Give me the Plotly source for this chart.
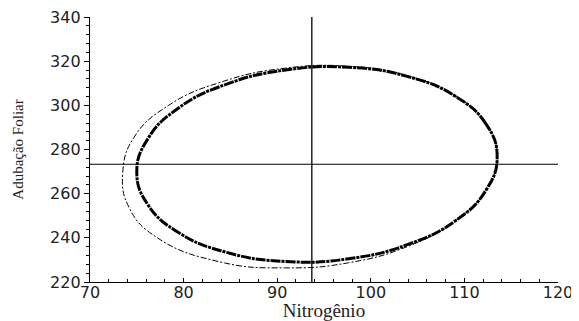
import plotly.graph_objects as go

# Inner (thick) contour (counter-clockwise from the right)
inner_x = [113.5, 112.3, 109.0, 103.9, 97.6, 90.9, 84.6, 79.5, 76.2, 75.0,
           76.2, 79.5, 84.6, 90.9, 97.6, 103.9, 109.0, 112.3, 113.5]
inner_y = [276.7, 291.6, 304.2, 313.1, 317.2, 316.0, 309.6, 298.9, 285.0, 269.8,
           254.9, 242.3, 233.4, 229.3, 230.5, 236.9, 247.6, 261.5, 276.7]

# Outer (thin) contour
outer_x = [113.5, 112.3, 109.0, 103.9, 97.6, 90.8, 84.2, 78.4, 74.7, 73.5,
           74.2, 77.2, 84.0, 90.9, 97.6, 104.0, 109.0, 112.3, 113.5]
outer_y = [276.7, 291.6, 304.4, 313.4, 317.7, 316.8, 310.8, 300.0, 285.5, 269.5,
           253.5, 240.0, 229.0, 226.4, 228.7, 236.2, 247.6, 261.5, 276.7]

# Reference cross-hair
center_x = 93.7
center_y = 273.3
x_range = [70, 120]
y_range = [220, 340]

fig = go.Figure()
fig.add_trace(go.Scatter(x=outer_x, y=outer_y, mode="lines",
                         line=dict(color="black", width=1, shape="spline", smoothing=1.3,
                                   dash="6px,2px,2px,2px"),
                         showlegend=False, hoverinfo="skip"))
fig.add_trace(go.Scatter(x=inner_x, y=inner_y, mode="lines",
                         line=dict(color="black", width=3, shape="spline", smoothing=1.3,
                                   dash="10px,1px,3px,1px"),
                         showlegend=False, hoverinfo="skip"))
fig.add_trace(go.Scatter(x=[center_x, center_x], y=y_range, mode="lines",
                         line=dict(color="black", width=1.3), showlegend=False, hoverinfo="skip"))
fig.add_trace(go.Scatter(x=x_range, y=[center_y, center_y], mode="lines",
                         line=dict(color="black", width=1.1), showlegend=False, hoverinfo="skip"))

# page body has an 8px margin, so the figure is sized to fit the window
fig.update_layout(
    width=571, height=313,
    margin=dict(l=82, r=21, t=9, b=39),
    paper_bgcolor="white", plot_bgcolor="white",
    font=dict(family="DejaVu Sans", size=16, color="#222"),
    xaxis=dict(range=x_range, dtick=10, tick0=70, showgrid=False, zeroline=False,
               automargin=False, ticklabeloverflow="allow", ticklabelstandoff=-4,
               showline=True, linecolor="black", linewidth=1.3,
               ticks="inside", ticklen=4, tickcolor="black",
               minor=dict(ticks="inside", ticklen=3, dtick=2, tickcolor="black"),
               title=dict(text="Nitrogênio", font=dict(family="Liberation Serif", size=19, color="#222"),
                          standoff=12)),
    yaxis=dict(range=y_range, dtick=20, tick0=220, showgrid=False, zeroline=False,
               automargin=False, ticklabeloverflow="allow",
               showline=True, linecolor="black", linewidth=1.3,
               ticks="outside", ticklen=5, tickcolor="black",
               minor=dict(ticks="outside", ticklen=3, dtick=4, tickcolor="black"),
               title=dict(text="Adubação Foliar", font=dict(family="Liberation Serif", size=15, color="#222"),
                          standoff=22)),
)

fig.write_html("out.html")
